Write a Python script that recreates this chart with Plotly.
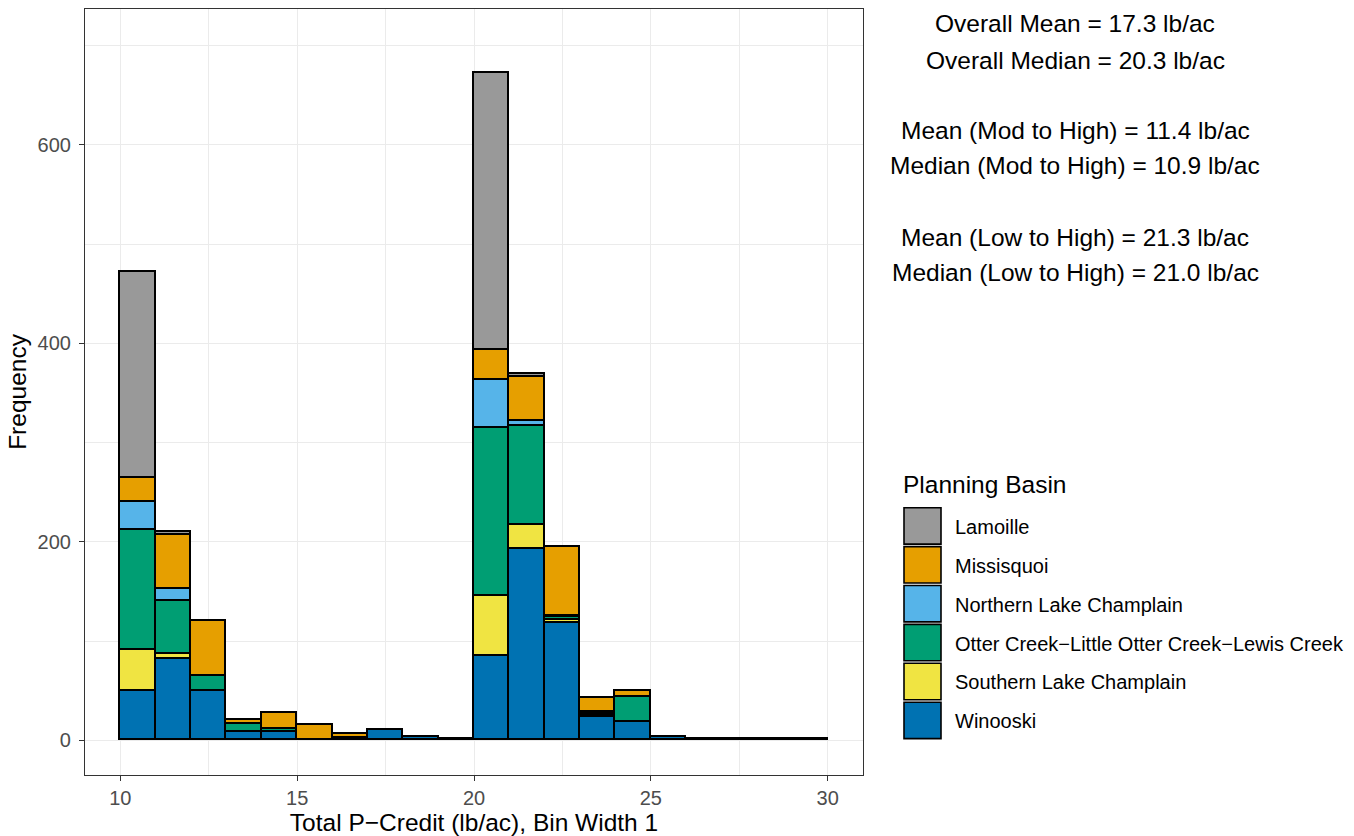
import plotly.graph_objects as go

# ---------------- data ----------------
bin_left = list(range(10, 30))          # bins of width 1, from 10 to 30
bin_width = 1

winooski   = [50, 82, 50, 8, 8, 0, 2, 10, 3, 1, 85, 193, 118, 23, 18, 3, 1, 1, 1, 1]
southern   = [41, 5, 0, 0, 0, 0, 0, 0, 0, 0, 60, 24, 3, 2, 0, 0, 0, 0, 0, 0]
otter      = [121, 53, 15, 8, 3, 0, 0, 0, 0, 0, 170, 100, 3, 2, 26, 0, 0, 0, 0, 0]
northern   = [28, 12, 0, 0, 0, 0, 0, 0, 0, 0, 48, 5, 1, 1, 0, 0, 0, 0, 0, 0]
missisquoi = [24, 55, 55, 4, 16, 15, 4, 0, 0, 0, 30, 44, 70, 15, 6, 0, 0, 0, 0, 0]
lamoille   = [208, 3, 0, 0, 0, 0, 0, 0, 0, 0, 279, 3, 0, 0, 0, 0, 0, 0, 0, 0]

# stacking order (bottom -> top)
stack_names = ["Winooski", "Southern Lake Champlain",
               "Otter Creek\u2212Little Otter Creek\u2212Lewis Creek",
               "Northern Lake Champlain", "Missisquoi", "Lamoille"]
stack_values = [winooski, southern, otter, northern, missisquoi, lamoille]
stack_colors = ["#0072B2", "#F0E442", "#009E73", "#56B4E9", "#E69F00", "#999999"]

# legend order (top -> bottom)
legend_names = ["Lamoille", "Missisquoi", "Northern Lake Champlain",
                "Otter Creek\u2212Little Otter Creek\u2212Lewis Creek",
                "Southern Lake Champlain", "Winooski"]
legend_colors = ["#999999", "#E69F00", "#56B4E9", "#009E73", "#F0E442", "#0072B2"]

stats_lines = ["Overall Mean = 17.3 lb/ac", "Overall Median = 20.3 lb/ac",
               "Mean (Mod to High) = 11.4 lb/ac", "Median (Mod to High) = 10.9 lb/ac",
               "Mean (Low to High) = 21.3 lb/ac", "Median (Low to High) = 21.0 lb/ac"]

x_ticks = [10, 15, 20, 25, 30]
y_ticks = [0, 200, 400, 600]

# ---------------- layout constants ----------------
W, H = 1354, 836
ML, MR, MT, MB = 85, 491, 8, 60
PW, PH = W - ML - MR, H - MT - MB

def px_x(px):
    return (px - ML) / PW

def px_y(py):
    return (H - MB - py) / PH

FONT = "Liberation Sans, Arial, sans-serif"
BASE = 24.5
SMALL = 20

bin_centers = [b + bin_width / 2 for b in bin_left]

fig = go.Figure()
for name, vals, col in zip(stack_names, stack_values, stack_colors):
    fig.add_trace(go.Bar(
        x=bin_centers, y=vals, width=[bin_width] * len(bin_centers), name=name,
        marker=dict(color=col, line=dict(color="black", width=1.6)),
        showlegend=False, hovertemplate="%{y}<extra>" + name + "</extra>"))

# ---------------- stats annotations ----------------
stats_y = [23, 60, 130, 165, 237, 272]
annotations = []
for txt, py in zip(stats_lines, stats_y):
    annotations.append(dict(text=txt, x=px_x(1075), y=px_y(py), xref="paper", yref="paper",
                            xanchor="center", yanchor="middle", showarrow=False,
                            font=dict(family=FONT, size=BASE, color="black")))

# ---------------- legend (drawn as shapes + text) ----------------
annotations.append(dict(text="Planning Basin", x=px_x(901), y=px_y(485), xref="paper", yref="paper",
                        xanchor="left", yanchor="middle", showarrow=False,
                        font=dict(family=FONT, size=BASE, color="black")))
shapes = []
for i, (name, col) in enumerate(zip(legend_names, legend_colors)):
    top = 508 + 39 * i
    bot = top + 36.5
    shapes.append(dict(type="rect", xref="paper", yref="paper",
                       x0=px_x(904), x1=px_x(941), y0=px_y(bot), y1=px_y(top),
                       fillcolor=col, line=dict(color="black", width=1.6), layer="above"))
    annotations.append(dict(text=name, x=px_x(953), y=px_y((top + bot) / 2 + 1),
                            xref="paper", yref="paper", xanchor="left", yanchor="middle",
                            showarrow=False, font=dict(family=FONT, size=SMALL, color="black")))

grid = "#EBEBEB"
fig.update_layout(
    width=W, height=H,
    margin=dict(l=ML, r=MR, t=MT, b=MB),
    barmode="stack", bargap=0,
    plot_bgcolor="white", paper_bgcolor="white",
    font=dict(family=FONT, color="black"),
    annotations=annotations, shapes=shapes,
    showlegend=False,
)
fig.update_xaxes(
    range=[9, 31], tickvals=x_ticks, ticktext=[str(v) for v in x_ticks],
    showgrid=True, gridcolor=grid, gridwidth=1.1,
    minor=dict(dtick=2.5, tick0=0, showgrid=True, gridcolor=grid, gridwidth=0.6),
    zeroline=False, showline=True, mirror=True, linecolor="#333333", linewidth=1.2,
    ticks="outside", ticklen=5, tickcolor="#333333", tickwidth=1.3,
    tickfont=dict(family=FONT, size=SMALL, color="#4D4D4D"),
    title=dict(text="Total P\u2212Credit (lb/ac), Bin Width 1",
               font=dict(family=FONT, size=BASE, color="black"), standoff=2),
)
fig.update_yaxes(
    range=[-35, 737], tickvals=y_ticks, ticktext=[str(v) for v in y_ticks],
    showgrid=True, gridcolor=grid, gridwidth=1.1,
    minor=dict(dtick=100, tick0=0, showgrid=True, gridcolor=grid, gridwidth=0.6),
    zeroline=False, showline=True, mirror=True, linecolor="#333333", linewidth=1.2,
    ticks="outside", ticklen=5, tickcolor="#333333", tickwidth=1.3,
    tickfont=dict(family=FONT, size=SMALL, color="#4D4D4D"),
    ticklabelstandoff=4,
    title=dict(text="Frequency", font=dict(family=FONT, size=BASE, color="black"), standoff=3),
)

fig.write_html("out.html", config={"displayModeBar": False},
               post_script="document.body.style.margin='0';document.body.style.overflow='hidden';")
